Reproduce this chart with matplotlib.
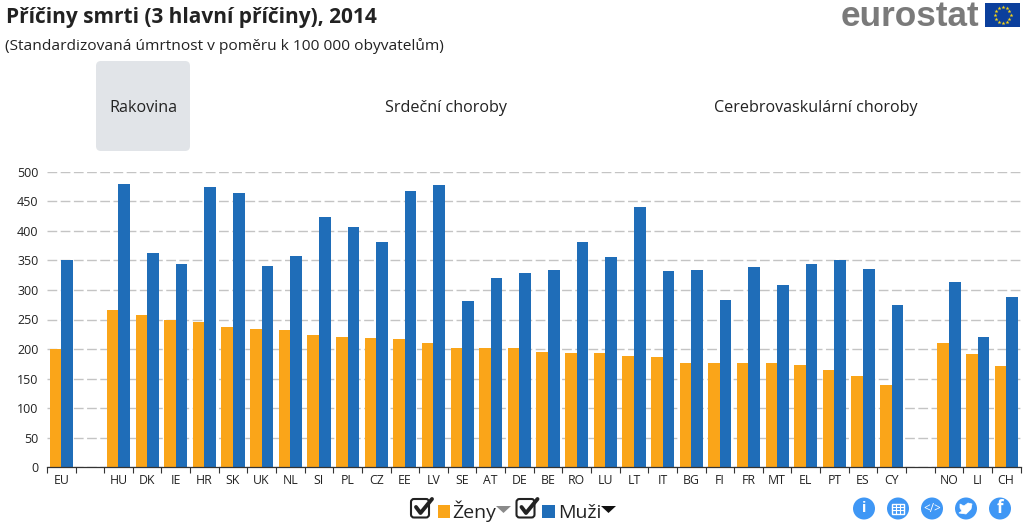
import numpy as np
import matplotlib
matplotlib.use("Agg")
import matplotlib.pyplot as plt
from matplotlib.patches import FancyBboxPatch, Rectangle, Circle, Polygon

plt.rcParams['font.family'] = ['Open Sans', 'DejaVu Sans']

title = "Příčiny smrti (3 hlavní příčiny), 2014"
subtitle = "(Standardizovaná úmrtnost v poměru k 100 000 obyvatelům)"
tabs = ["Rakovina", "Srdeční choroby", "Cerebrovaskulární choroby"]
categories = ["EU", "", "HU", "DK", "IE", "HR", "SK", "UK", "NL", "SI", "PL", "CZ", "EE", "LV", "SE", "AT", "DE",
              "BE", "RO", "LU", "LT", "IT", "BG", "FI", "FR", "MT", "EL", "PT", "ES", "CY", "", "NO", "LI", "CH"]
women = [200, np.nan, 266, 258, 249, 246, 238, 234, 232, 223, 221, 218, 217, 211, 202, 201.5, 201,
         195, 193, 193, 188, 186, 177, 177, 177, 177, 173, 165, 155, 139, np.nan, 211, 191, 172]
men = [350, np.nan, 479, 362, 344, 474, 464, 341, 357, 424, 406, 382, 467, 477, 282, 320.5, 328,
       333.5, 381.5, 355.5, 441, 332, 333, 283, 339, 309, 344, 350, 336, 274, np.nan, 314, 221, 288]
yticks = [0, 50, 100, 150, 200, 250, 300, 350, 400, 450, 500]
series_names = ["Ženy", "Muži"]

ORANGE = "#FAA519"
BLUE = "#1F6DB8"
W, H = 1024, 530

fig = plt.figure(figsize=(W / 100, H / 100), dpi=100, facecolor="white")

left, right, top, bottom = 46.9, 1020.5, 171.8, 467.2
ax = fig.add_axes([left / W, 1 - bottom / H, (right - left) / W, (bottom - top) / H])
x = np.arange(len(categories))
bw = 0.405
ax.bar(x - bw / 2, women, bw, color=ORANGE, zorder=3, linewidth=0)
ax.bar(x + bw / 2, men, bw, color=BLUE, zorder=3, linewidth=0)
ax.set_xlim(-0.5, len(categories) - 0.5)
ax.set_ylim(0, 500)
ax.set_yticks(yticks)
ax.set_xticks(x)
ax.set_xticklabels(categories, fontsize=8.8, color="#222222")
ax.set_xticks(np.arange(-0.5, len(categories)), minor=True)
ax.tick_params(axis="x", which="major", length=0, pad=5)
ax.tick_params(axis="x", which="minor", length=4, width=0.8, color="#333333")
ax.tick_params(axis="y", length=0, pad=6, labelsize=9, labelcolor="#222222")
ax.grid(axis="y", color="#C4C4C4", linewidth=1.0, linestyle=(0, (7, 2.5)), zorder=0)
ax.set_axisbelow(True)
for s in ("top", "right", "left"):
    ax.spines[s].set_visible(False)
ax.spines["bottom"].set_color("#333333")
ax.spines["bottom"].set_linewidth(0.9)
ax.spines["bottom"].set_zorder(5)

ov = fig.add_axes([0, 0, 1, 1], facecolor="none")
ov.set_xlim(0, W)
ov.set_ylim(H, 0)
ov.axis("off")

ov.text(6, 17.5, title, fontsize=15.05, fontweight="bold", color="#222222", va="center", ha="left")
ov.text(5, 46.5, subtitle, fontsize=11.15, color="#222222", va="center", ha="left")

# Tabs
ov.add_patch(FancyBboxPatch((96, 61), 94, 90, boxstyle="round,pad=0,rounding_size=5",
                            fc="#E1E4E8", ec="none"))
for label, cx in zip(tabs, (143, 446, 815.5)):
    ov.text(cx, 108, label, fontsize=11.6, color="#222222", ha="center", va="center")


# Legend
def checkbox(px):
    ov.add_patch(FancyBboxPatch((px, 499), 18, 18.5, boxstyle="round,pad=0,rounding_size=3",
                                fc="white", ec="#222222", lw=1.5))
    ov.plot([px + 5, px + 9.5, px + 21], [507, 513, 499], color="#222222", lw=2.8,
            solid_capstyle="round", solid_joinstyle="round")


checkbox(411)
ov.add_patch(Rectangle((438, 505), 12, 13, fc=ORANGE, ec="none"))
ov.text(452, 518, series_names[0], fontsize=14, color="#222222", ha="left", va="baseline")
ov.add_patch(Polygon([[496, 506], [511, 506], [503.5, 513]], fc="#8A8A8A", ec="none"))
checkbox(516.5)
ov.add_patch(Rectangle((542, 505), 13, 13, fc=BLUE, ec="none"))
ov.text(558, 518, series_names[1], fontsize=14, color="#222222", ha="left", va="baseline")
ov.add_patch(Polygon([[601, 506], [616, 506], [608.5, 513]], fc="#111111", ec="none"))

# Action icons
ICON = "#3F97F5"
for cx in (864, 898, 932, 966, 1000):
    ov.add_patch(Circle((cx, 508.5), 11, fc=ICON, ec="none"))
ov.text(864, 508.5, "i", color="white", fontsize=10.5, fontweight="bold", ha="center", va="center")
ov.add_patch(Rectangle((892, 503.5), 12, 10, fc="none", ec="white", lw=1))
for dx in (4, 8):
    ov.plot([892 + dx] * 2, [503.5, 513.5], color="white", lw=0.8)
for dy in (3.3, 6.6):
    ov.plot([892, 904], [503.5 + dy] * 2, color="white", lw=0.8)
ov.text(932, 508, "</>", color="white", fontsize=8.5, ha="center", va="center")
ov.add_patch(Polygon([[960, 504], [964, 506], [968, 503], [972, 504], [971, 509], [966, 514], [959, 513],
                      [962, 511], [960, 508]], fc="white", ec="white", lw=0.5, joinstyle="round"))
ov.text(1000, 508, "f", color="white", fontsize=12, fontweight="bold", ha="center", va="center")

# Logo
ov.text(841, 25.5, "eurostat", fontsize=25.3, fontweight="bold", color="#7A7A7A",
        family=["Liberation Sans", "DejaVu Sans"], ha="left", va="baseline")
ov.add_patch(Rectangle((985, 3), 35, 24, fc="#0B3F9C", ec="none"))
angles = np.deg2rad(np.arange(0, 360, 30))
ov.scatter(1002.5 + 8 * np.cos(angles), 15 + 8 * np.sin(angles), s=9, marker="*", color="#F7D417", linewidths=0)

fig.savefig("out.png", dpi=100)
